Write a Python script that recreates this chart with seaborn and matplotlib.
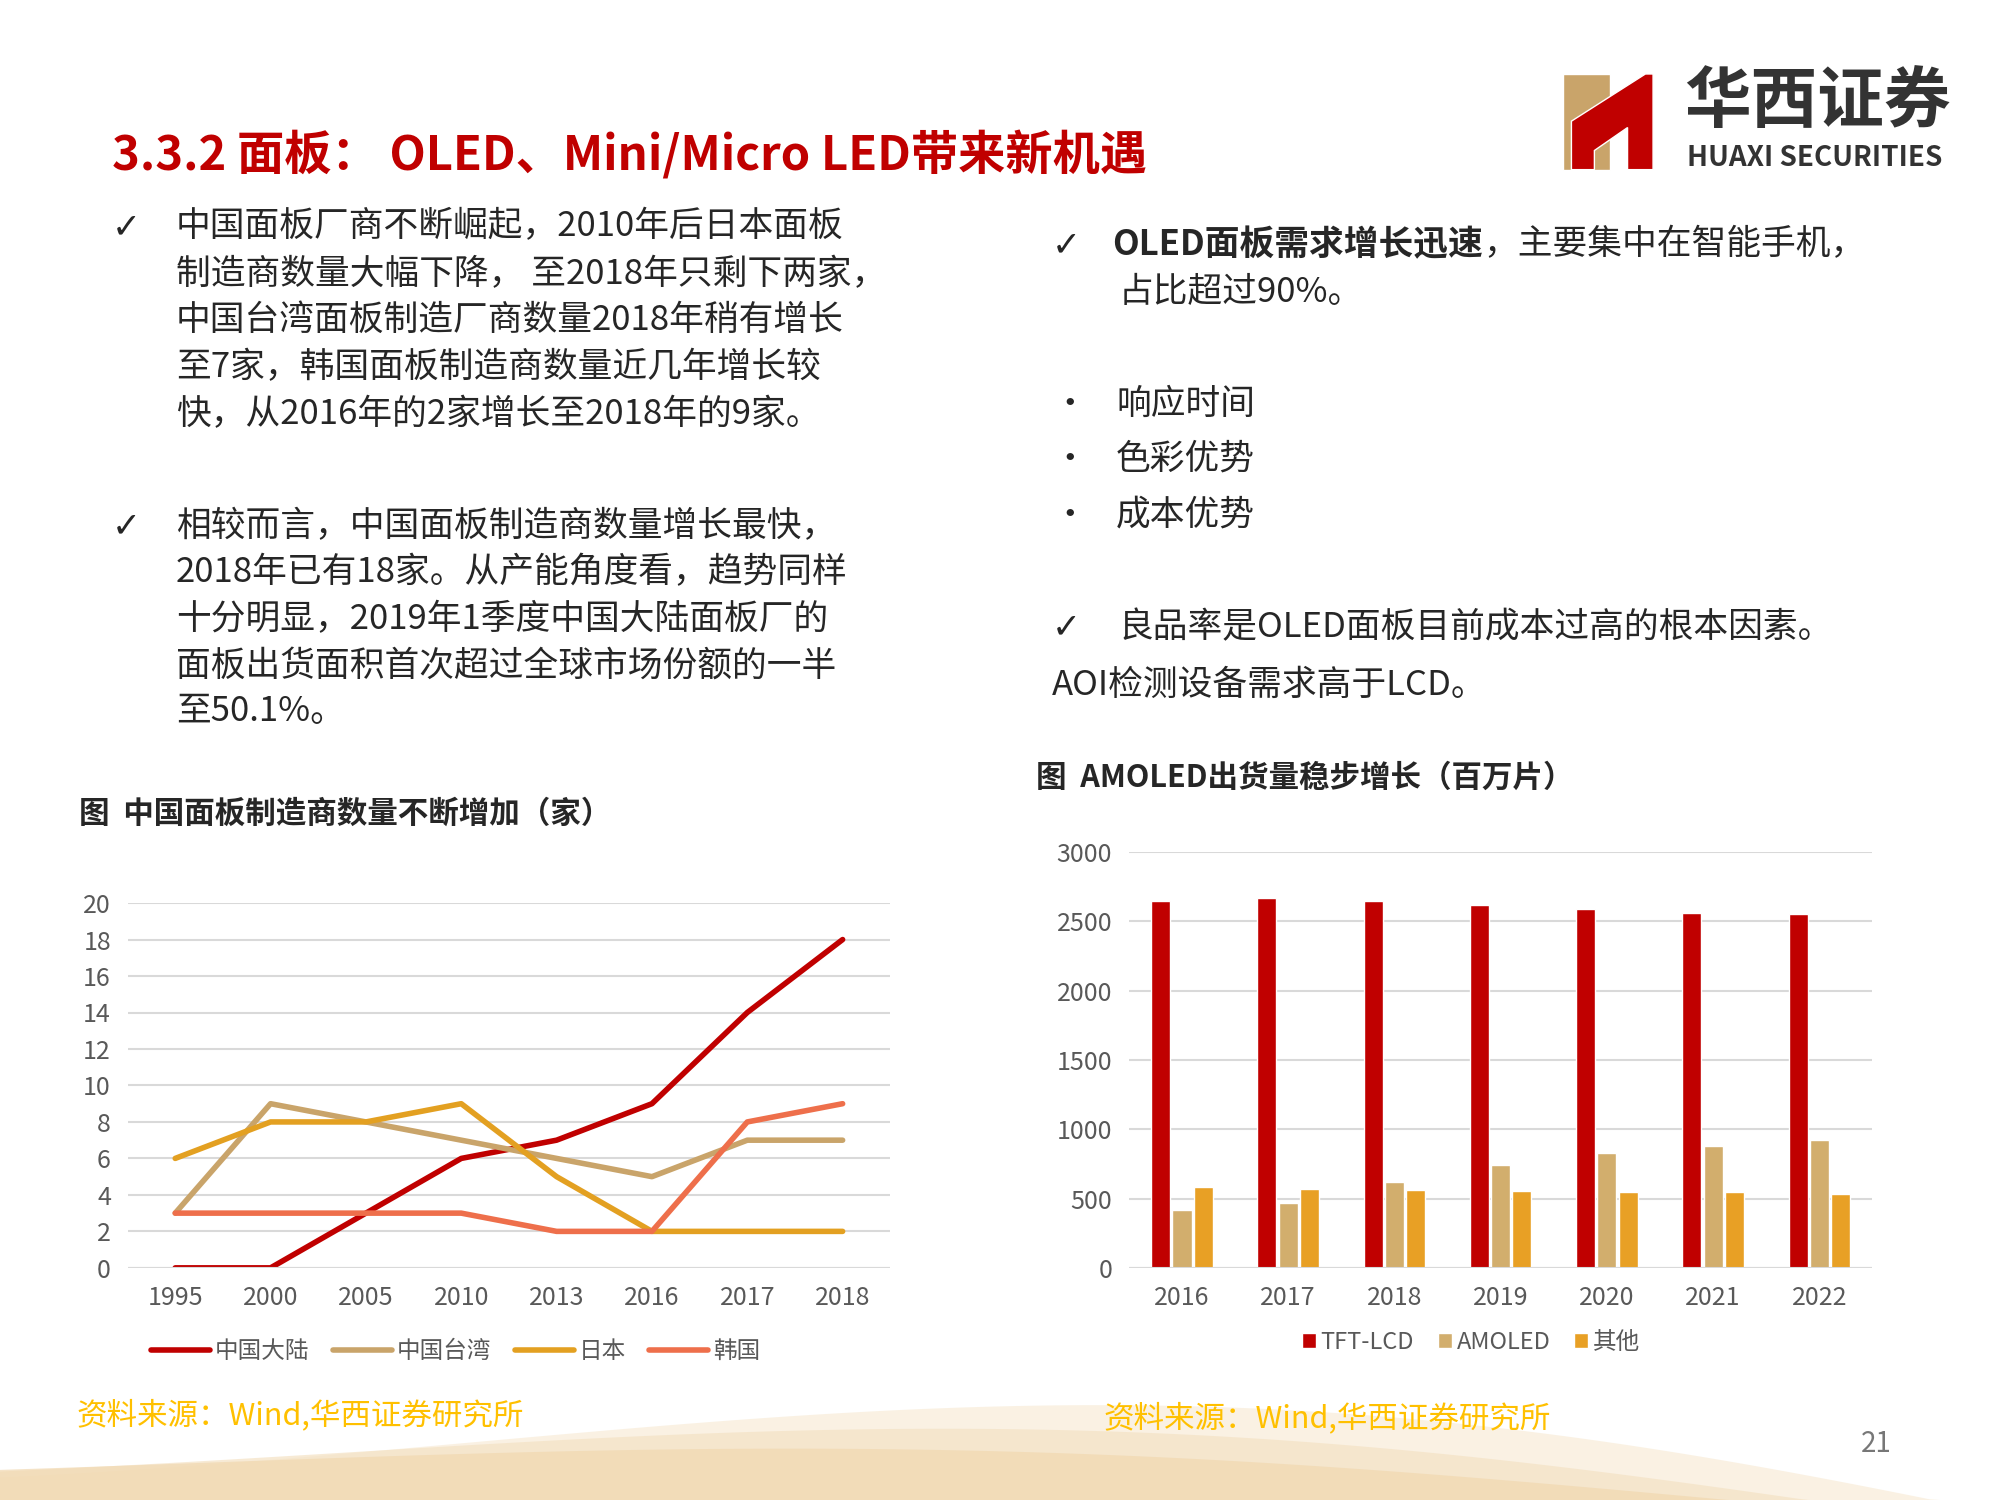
import matplotlib
matplotlib.use("Agg")
import matplotlib.pyplot as plt
import numpy as np
import pandas as pd
import seaborn as sns
from matplotlib.patches import Polygon

sns.set_style("white")
plt.rcParams['font.family'] = ['Noto Sans CJK SC', 'DejaVu Sans']

# Line chart data
years = ["1995", "2000", "2005", "2010", "2013", "2016", "2017", "2018"]
mainland = [0, 0, 3, 6, 7, 9, 14, 18]
taiwan = [3, 9, 8, 7, 6, 5, 7, 7]
japan = [6, 8, 8, 9, 5, 2, 2, 2]
korea = [3, 3, 3, 3, 2, 2, 8, 9]
line_names = ["中国大陆", "中国台湾", "日本", "韩国"]
line_colors = ["#C00000", "#C9A46A", "#E3A021", "#EE6F4B"]

# Bar chart data
bar_years = ["2016", "2017", "2018", "2019", "2020", "2021", "2022"]
tft = [2650, 2670, 2650, 2620, 2590, 2560, 2550]
amoled = [420, 470, 620, 740, 830, 880, 920]
other = [580, 570, 560, 555, 550, 545, 535]
bar_names = ["TFT-LCD", "AMOLED", "其他"]
bar_colors = ["#C00000", "#D2AE6D", "#E8A025"]

W, H = 1568, 1176
fig = plt.figure(figsize=(20, 15), dpi=100)

def fx(x): return x / W
def fy(y): return 1 - y / H

# decorative background waves (bottom), kept faint
xs = np.linspace(0, 1, 200)
for k, (amp, c) in enumerate([(0.06, "#F8ECD8"), (0.045, "#F4E2C4"), (0.03, "#F1D8B0")]):
    top = 0.005 + amp * np.sin(np.pi * xs * 1.1 + 0.3 * k) * (0.3 + xs) + 0.01
    top = np.clip(top, 0, None)
    poly = np.column_stack([np.r_[xs, xs[::-1]], np.r_[top, np.zeros_like(xs)]])
    fig.patches.append(Polygon(poly, closed=True, transform=fig.transFigure,
                               facecolor=c, edgecolor="none", alpha=0.7, zorder=-5))

# Title and logo
fig.text(fx(88), fy(122), "3.3.2 面板： OLED、Mini/Micro LED带来新机遇", color="#C00000",
         fontsize=34, fontweight="bold", va="center")
fig.patches.append(Polygon([[fx(1225), fy(58)], [fx(1262), fy(58)], [fx(1262), fy(133)], [fx(1225), fy(133)]],
                           transform=fig.transFigure, facecolor="#C9A46A", zorder=1))
fig.patches.append(Polygon([[fx(1232), fy(95)], [fx(1290), fy(58)], [fx(1296), fy(58)], [fx(1296), fy(133)],
                            [fx(1276), fy(133)], [fx(1276), fy(100)], [fx(1250), fy(118)], [fx(1250), fy(133)],
                            [fx(1232), fy(133)]],
                           transform=fig.transFigure, facecolor="#C00000", zorder=2))
fig.text(fx(1425), fy(80), "华西证券", fontsize=48, fontweight="bold", color="#333333", ha="center", va="center")
fig.text(fx(1423), fy(124), "HUAXI SECURITIES", fontsize=20, fontweight="bold", color="#333333", ha="center", va="center")

# Body text
tx = 25
left_lines = [(178, "中国面板厂商不断崛起，2010年后日本面板"), (215, "制造商数量大幅下降， 至2018年只剩下两家，"),
              (251, "中国台湾面板制造厂商数量2018年稍有增长"), (288, "至7家，韩国面板制造商数量近几年增长较"),
              (325, "快，从2016年的2家增长至2018年的9家。"),
              (413, "相较而言，中国面板制造商数量增长最快，"), (449, "2018年已有18家。从产能角度看，趋势同样"),
              (486, "十分明显，2019年1季度中国大陆面板厂的"), (522, "面板出货面积首次超过全球市场份额的一半"),
              (558, "至50.1%。")]
for y, s in left_lines:
    fig.text(fx(138), fy(y), s, fontsize=tx, va="center")
for y in (178, 413):
    fig.text(fx(88), fy(y), "✓", fontsize=tx, va="center", family="DejaVu Sans")
fig.text(fx(825), fy(192), "✓", fontsize=tx, va="center", family="DejaVu Sans")
bold = fig.text(fx(872), fy(192), "OLED面板需求增长迅速", fontsize=tx, fontweight="bold", va="center")
fig.canvas.draw()
bb = bold.get_window_extent().transformed(fig.transFigure.inverted())
fig.text(bb.x1, fy(192), "，主要集中在智能手机，", fontsize=tx, va="center")
fig.text(fx(877), fy(229), "占比超过90%。", fontsize=tx, va="center")
for y, s in [(317, "响应时间"), (360, "色彩优势"), (404, "成本优势")]:
    fig.text(fx(825), fy(y), "•", fontsize=tx, va="center")
    fig.text(fx(875), fy(y), s, fontsize=tx, va="center")
fig.text(fx(825), fy(492), "✓", fontsize=tx, va="center", family="DejaVu Sans")
fig.text(fx(877), fy(492), "良品率是OLED面板目前成本过高的根本因素。", fontsize=tx, va="center")
fig.text(fx(825), fy(537), "AOI检测设备需求高于LCD。", fontsize=tx, va="center")

fig.text(fx(62), fy(638), "图  中国面板制造商数量不断增加（家）", fontsize=22, fontweight="bold", va="center")
fig.text(fx(812), fy(610), "图  AMOLED出货量稳步增长（百万片）", fontsize=22, fontweight="bold", va="center")
fig.text(fx(60), fy(1110), "资料来源：Wind,华西证券研究所", fontsize=22, color="#FFC000", va="center")
fig.text(fx(865), fy(1112), "资料来源：Wind,华西证券研究所", fontsize=22, color="#FFC000", va="center")
fig.text(fx(1483), fy(1132), "21", fontsize=20, color="#777777", ha="right", va="center")

# Line chart
ax1 = fig.add_axes([fx(100), fy(994), fx(698) - fx(100), fy(708) - fy(994)])
ax1.patch.set_alpha(0)
df_line = pd.DataFrame({"year": years, "中国大陆": mainland, "中国台湾": taiwan, "日本": japan, "韩国": korea})
df_line = df_line.melt(id_vars="year", var_name="region", value_name="count")
sns.lineplot(data=df_line, x="year", y="count", hue="region", hue_order=line_names,
             palette=line_colors, linewidth=4, sort=False, ax=ax1)
ax1.set_ylim(0, 20)
ax1.set_yticks(range(0, 21, 2))
ax1.set_xlim(-0.5, 7.5)
ax1.grid(axis="y", color="#D9D9D9", linewidth=1.5)
for s in ax1.spines.values():
    s.set_visible(False)
ax1.axhline(0, color="#D9D9D9", linewidth=1.5)
ax1.set_xlabel("")
ax1.set_ylabel("")
ax1.tick_params(labelsize=18, labelcolor="#595959", length=0, pad=12)
ax1.legend(loc="upper center", bbox_to_anchor=(0.43, -0.14), ncol=4, frameon=False,
           fontsize=17, labelcolor="#595959", handlelength=2.5, columnspacing=1.0, handletextpad=0.2)

# Bar chart
ax2 = fig.add_axes([fx(885), fy(994), fx(1468) - fx(885), fy(668) - fy(994)])
ax2.patch.set_alpha(0)
df_bar = pd.DataFrame({"year": bar_years, "TFT-LCD": tft, "AMOLED": amoled, "其他": other})
df_bar = df_bar.melt(id_vars="year", var_name="type", value_name="value")
sns.barplot(data=df_bar, x="year", y="value", hue="type", hue_order=bar_names,
            palette=bar_colors, width=0.6, gap=0.1, saturation=1, ax=ax2)
ax2.set_ylim(0, 3000)
ax2.set_yticks(range(0, 3001, 500))
ax2.set_axisbelow(True)
ax2.grid(axis="y", color="#D9D9D9", linewidth=1.5)
for s in ax2.spines.values():
    s.set_visible(False)
ax2.axhline(0, color="#D9D9D9", linewidth=1.5)
ax2.set_xlabel("")
ax2.set_ylabel("")
ax2.tick_params(labelsize=18, labelcolor="#595959", length=0, pad=12)
ax2.legend(loc="upper center", bbox_to_anchor=(0.46, -0.1), ncol=3, frameon=False,
           fontsize=17, labelcolor="#595959", handlelength=0.6, handleheight=0.6, columnspacing=1.0,
           handletextpad=0.2)

fig.savefig("out.png", dpi=100)
